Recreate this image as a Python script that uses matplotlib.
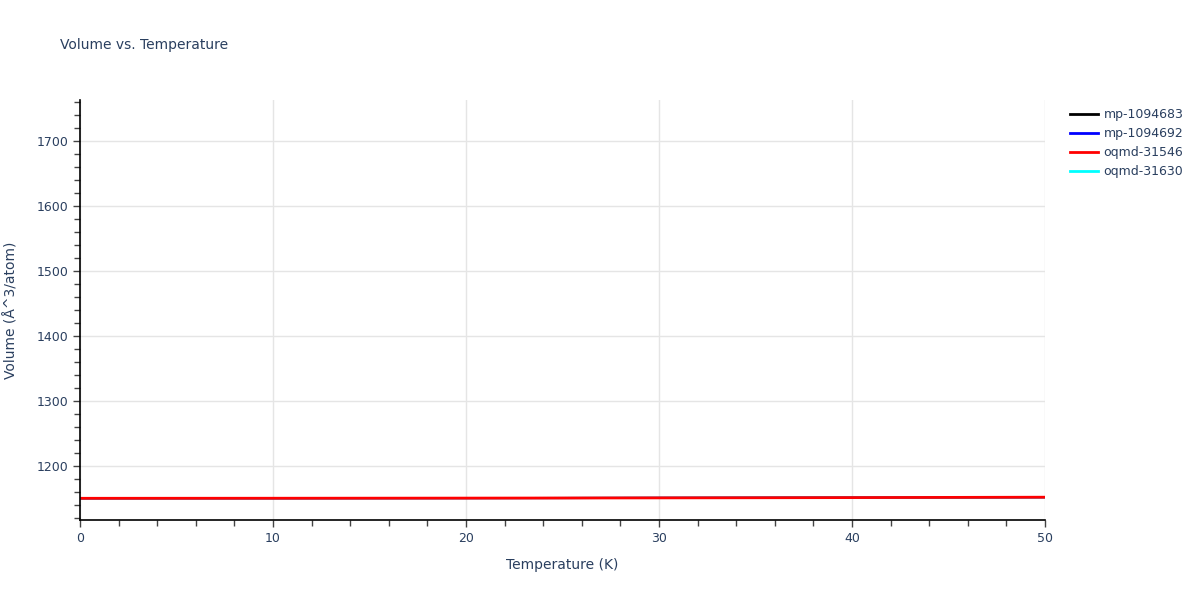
import numpy as np
import matplotlib
matplotlib.use("Agg")
import matplotlib.pyplot as plt
from matplotlib.ticker import MultipleLocator
from matplotlib.lines import Line2D

temperature = [0, 5, 10, 15, 20, 25, 30, 35, 40, 45, 50]
mp_1094683 = [1149.8, 1149.85, 1149.9, 1150.0, 1150.1, 1150.25, 1150.45, 1150.65, 1150.9, 1151.2, 1151.5]
mp_1094692 = [1149.8, 1149.85, 1149.9, 1150.0, 1150.1, 1150.25, 1150.45, 1150.65, 1150.9, 1151.2, 1151.5]
oqmd_31546 = [1149.8, 1149.85, 1149.9, 1150.0, 1150.1, 1150.25, 1150.45, 1150.65, 1150.9, 1151.2, 1151.5]
oqmd_31630 = [1149.8, 1149.85, 1149.9, 1150.0, 1150.1, 1150.25, 1150.45, 1150.65, 1150.9, 1151.2, 1151.5]

series_names = ["mp-1094683", "mp-1094692", "oqmd-31546", "oqmd-31630"]
series_values = [mp_1094683, mp_1094692, oqmd_31546, oqmd_31630]
colors = ["black", "blue", "red", "cyan"]
zorders = [2, 2.1, 2.3, 2.2]
widths = [1.5, 1.5, 2, 1.5]

plt.rcParams['font.family'] = ['DejaVu Sans']
text_color = "#2a3f5f"

fig = plt.figure(figsize=(12, 6), dpi=100)
ax = fig.add_axes([80/1200, 80/600, 965/1200, 420/600])

for name, vals, c, z, w in zip(series_names, series_values, colors, zorders, widths):
    ax.plot(temperature, vals, color=c, lw=w, label=name, zorder=z)

ax.set_xlim(0, 50)
ax.set_ylim(1116.4, 1763)
ax.xaxis.set_major_locator(MultipleLocator(10))
ax.xaxis.set_minor_locator(MultipleLocator(2))
ax.yaxis.set_major_locator(MultipleLocator(100))
ax.yaxis.set_minor_locator(MultipleLocator(20))
ax.set_yticks([1200, 1300, 1400, 1500, 1600, 1700])

ax.grid(True, which='major', color='#e5e5e5', lw=1, zorder=0)
ax.set_axisbelow(True)
for s in ['top', 'right']:
    ax.spines[s].set_visible(False)
for s in ['left', 'bottom']:
    ax.spines[s].set_color('black')
    ax.spines[s].set_linewidth(1.2)

ax.tick_params(which='both', direction='out', colors='#444444', labelcolor=text_color, labelsize=9)
ax.tick_params(which='major', length=5, width=1)
ax.tick_params(which='minor', length=4, width=1)
ax.tick_params(axis='x', pad=4)

ax.set_xlabel("Temperature (K)", fontsize=10, color=text_color, labelpad=9)
ax.set_ylabel("Volume (Å^3/atom)", fontsize=10, color=text_color, labelpad=13)

fig.text(60/1200, 1 - 45/600, "Volume vs. Temperature", fontsize=10, color=text_color, va='center', ha='left')

handles = [Line2D([0], [0], color=c, lw=2) for c in colors]
leg = fig.legend(handles, series_names, loc='upper left', bbox_to_anchor=(1070/1200, 1 - 108/600),
                 frameon=False, fontsize=9, handlelength=2.2, handletextpad=0.5,
                 labelspacing=0.48, borderaxespad=0, borderpad=0)
for t in leg.get_texts():
    t.set_color(text_color)

fig.savefig("out.png", dpi=100)
